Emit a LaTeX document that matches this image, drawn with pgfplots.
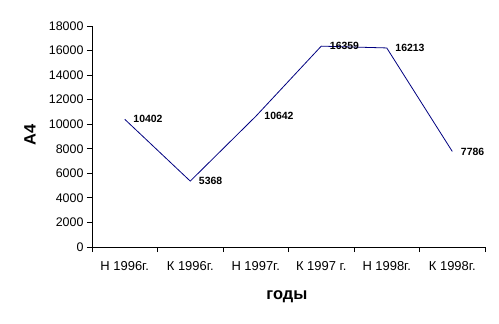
\documentclass[border=0pt]{standalone}
\usepackage{pgfplots}
\pgfplotsset{compat=1.18}
\usepackage{fontspec}
\setmainfont{Liberation Sans}
\definecolor{navy}{RGB}{0,0,128}
\begin{document}
\begin{tikzpicture}[x=1bp,y=1bp]
\begin{axis}[
  at={(0,0)}, anchor=south west,
  scale only axis, width=393bp, height=221bp,
  xmin=-0.5, xmax=5.5, ymin=0, ymax=18000,
  axis lines=left, axis line style={-, black, line width=0.8bp},
  xtick={0,...,5},
  xticklabels={Н 1996г., К 1996г., Н 1997г., К 1997 г., Н 1998г., К 1998г.},
  major x tick style={draw=none},
  minor xtick={-0.5,0.5,...,5.5},
  minor tick length=5bp,
  ytick={0,2000,...,18000},
  major tick length=5bp,
  tick align=outside,
  tick style={black, line width=0.8bp},
  scaled y ticks=false,
  yticklabel style={/pgf/number format/1000 sep={}, font=\fontsize{12.5}{14}\selectfont},
  /pgf/number format/assume math mode=true,
  xticklabel style={font=\fontsize{13}{15}\selectfont, yshift=-6bp},
  xlabel={годы}, ylabel={А4},
  xlabel style={at={(axis description cs:0.496,-0.226)}, anchor=center, font=\bfseries\fontsize{16.5}{18}\selectfont},
  ylabel style={at={(axis description cs:-0.158,0.507)}, anchor=center, font=\bfseries\fontsize{16.5}{18}\selectfont},
  clip=false,
  nodes near coords,
  nodes near coords style={anchor=west, xshift=5bp, font=\bfseries\fontsize{10.5}{12}\selectfont, black, /pgf/number format/1000 sep={}},
]
\addplot[navy, line width=0.8bp, mark=none] coordinates {
(0,10402) (1,5368) (2,10642) (3,16359) (4,16213) (5,7786)
};
\end{axis}
\pgfresetboundingbox
\path[use as bounding box] (-92,-76) rectangle (407,247);
\end{tikzpicture}
\end{document}
